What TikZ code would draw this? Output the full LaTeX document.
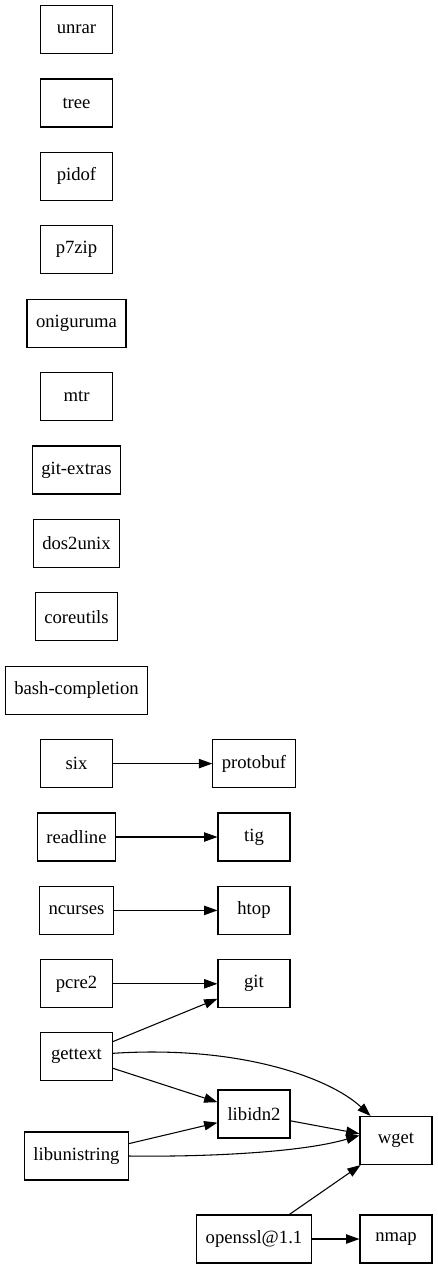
\documentclass[tikz,border=0pt]{standalone}
\usepackage{fontspec}
\setmainfont{Liberation Serif}
\usetikzlibrary{arrows.meta}
\begin{document}
\begin{tikzpicture}[x=0.75pt,y=-0.75pt,
  pkg/.style={draw,line width=0.8pt,rectangle,minimum width=54pt,minimum height=36pt,inner xsep=6.8pt,font=\fontsize{14pt}{16pt}\selectfont},
  dep/.style={line width=0.8pt,-{Triangle[length=10pt,width=7pt]}}]
\useasboundingbox (0,0) rectangle (437,1269);
\node[pkg] (unrar) at (76.5,29.5) {unrar};
\node[pkg] (tree) at (76.5,103) {tree};
\node[pkg] (pidof) at (76.5,176.4) {pidof};
\node[pkg] (p7zip) at (76.5,249.8) {p7zip};
\node[pkg] (oniguruma) at (76.5,323.2) {oniguruma};
\node[pkg] (mtr) at (76.5,396.6) {mtr};
\node[pkg] (gitextras) at (76.5,470) {git-extras};
\node[pkg] (dos2unix) at (76.5,543.4) {dos2unix};
\node[pkg] (coreutils) at (76.5,616.8) {coreutils};
\node[pkg] (bash) at (76.5,690.2) {bash-completion};
\node[pkg] (six) at (76.5,763.6) {six};
\node[pkg] (protobuf) at (254,763.6) {protobuf};
\node[pkg] (readline) at (76.5,837) {readline};
\node[pkg] (tig) at (254,837) {tig};
\node[pkg] (ncurses) at (76.5,910.4) {ncurses};
\node[pkg] (htop) at (254,910.4) {htop};
\node[pkg] (pcre2) at (76.5,983.8) {pcre2};
\node[pkg] (git) at (254,983.8) {git};
\node[pkg] (gettext) at (76.5,1056.5) {gettext};
\node[pkg] (libunistring) at (76.5,1156) {libunistring};
\node[pkg] (libidn2) at (254,1114) {libidn2};
\node[pkg] (wget) at (396,1140.5) {wget};
\node[pkg] (openssl) at (254,1239) {openssl@1.1};
\node[pkg] (nmap) at (396,1239) {nmap};
\draw[dep] (six) -- (protobuf);
\draw[dep] (readline) -- (tig);
\draw[dep] (ncurses) -- (htop);
\draw[dep] (pcre2) -- (git);
\draw[dep] (gettext) -- (git);
\draw[dep] (gettext.5) .. controls (240,1045) and (330,1078) .. (wget.136);
\draw[dep] (gettext) -- (libidn2);
\draw[dep] (libunistring) -- (libidn2);
\draw[dep] (libunistring.east) .. controls (200,1157) and (300,1153) .. (wget.172);
\draw[dep] (libidn2) -- (wget);
\draw[dep] (openssl) -- (wget);
\draw[dep] (openssl) -- (nmap);
\end{tikzpicture}
\end{document}
